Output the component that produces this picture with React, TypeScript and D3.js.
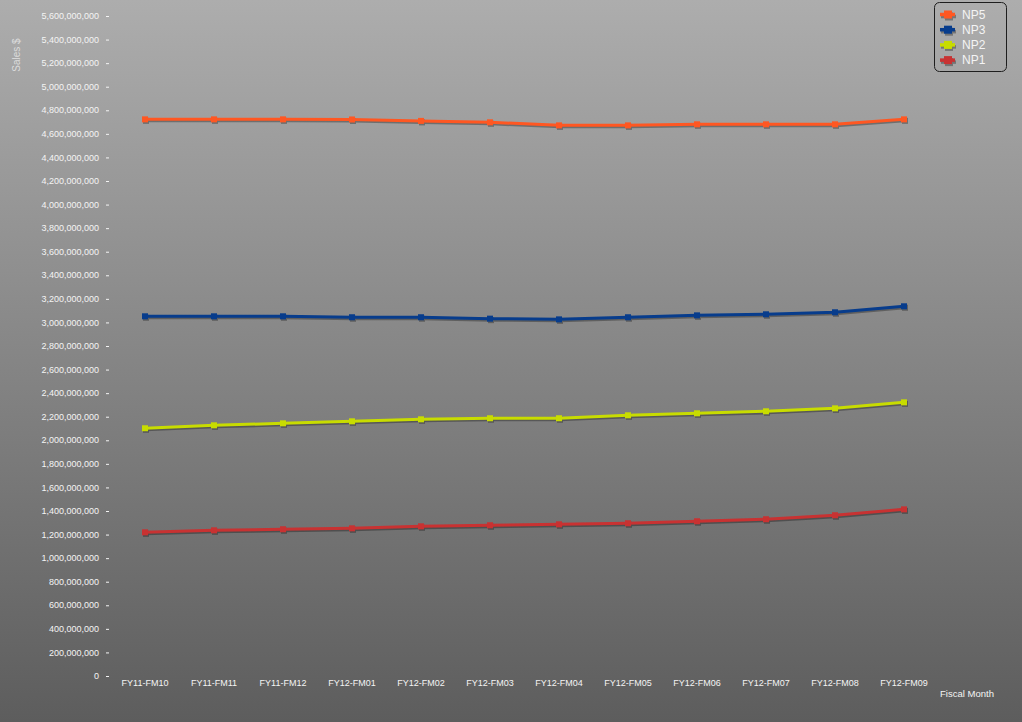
import React from "react";
import * as d3 from "d3";

const months = ["FY11-FM10","FY11-FM11","FY11-FM12","FY12-FM01","FY12-FM02","FY12-FM03","FY12-FM04","FY12-FM05","FY12-FM06","FY12-FM07","FY12-FM08","FY12-FM09"];
const np5 = [4.723e9,4.723e9,4.723e9,4.722e9,4.71e9,4.698e9,4.672e9,4.672e9,4.681e9,4.681e9,4.681e9,4.723e9];
const np3 = [3.052e9,3.052e9,3.052e9,3.044e9,3.044e9,3.032e9,3.026e9,3.044e9,3.060e9,3.069e9,3.086e9,3.137e9];
const np2 = [2.102e9,2.127e9,2.144e9,2.161e9,2.178e9,2.187e9,2.187e9,2.212e9,2.229e9,2.246e9,2.271e9,2.322e9];
const np1 = [1.219e9,1.236e9,1.245e9,1.253e9,1.270e9,1.279e9,1.287e9,1.296e9,1.313e9,1.330e9,1.364e9,1.414e9];
const seriesNames = ["NP5","NP3","NP2","NP1"];
const seriesValues = [np5, np3, np2, np1];
const seriesColors = ["#ff5722","#073c8c","#c8dc00","#c83232"];
const yTicks = d3.range(0, 5600000001, 200000000);

export default function App() {
  const W = 1022, H = 722;
  const x = d3.scaleBand<string>().domain(months).range([110.5, 938.5]);
  const y = d3.scaleLinear().domain([0, 5.6e9]).range([676, 16]);
  const cx = (m: string) => (x(m) as number) + x.bandwidth() / 2;
  const fmt = d3.format(",");
  const font = "'Liberation Sans', Arial, sans-serif";
  const line = d3.line<number>().x((_, i) => cx(months[i])).y(d => y(d));

  return (
    <svg width={W} height={H} style={{ position: "absolute", left: 0, top: 0 }}>
      <defs>
        <linearGradient id="bg" x1="0" y1="0" x2="0" y2="1">
          <stop offset="0" stopColor="#adadad" />
          <stop offset="1" stopColor="#5d5d5d" />
        </linearGradient>
      </defs>
      <rect width={W} height={H} fill="url(#bg)" />
      <text transform="translate(20,55) rotate(-90)" textAnchor="middle" fontFamily={font} fontSize={10} fill="#dcdcdc">Sales $</text>
      {yTicks.map(t => (
        <g key={t}>
          <text x={99} y={y(t)} dy="0.35em" textAnchor="end" fontFamily={font} fontSize={9} fill="#f4f4f4">{fmt(t)}</text>
          <line x1={106} x2={109} y1={y(t) + 0.5} y2={y(t) + 0.5} stroke="#f4f4f4" strokeWidth={1} />
        </g>
      ))}
      {months.map(m => (
        <text key={m} x={cx(m)} y={683} dy="0.35em" textAnchor="middle" fontFamily={font} fontSize={9} fill="#f4f4f4">{m}</text>
      ))}
      <text x={967} y={694} dy="0.35em" textAnchor="middle" fontFamily={font} fontSize={9.5} fill="#f4f4f4">Fiscal Month</text>
      {seriesValues.map((vals, si) => (
        <g key={seriesNames[si]}>
          <g transform="translate(1,1.5)" opacity={0.3}>
            <path d={line(vals) as string} fill="none" stroke="#000" strokeWidth={3} />
            {vals.map((v, i) => (
              <rect key={i} x={cx(months[i]) - 3} y={y(v) - 3} width={6} height={6} fill="#000" />
            ))}
          </g>
          <path d={line(vals) as string} fill="none" stroke={seriesColors[si]} strokeWidth={3} strokeLinejoin="round" />
          {vals.map((v, i) => (
            <rect key={i} x={cx(months[i]) - 3} y={y(v) - 3} width={6} height={6} fill={seriesColors[si]} />
          ))}
        </g>
      ))}
      <rect x={934.5} y={2.5} width={72} height={69} rx={5} fill="none" stroke="#1e1e1e" strokeWidth={1} />
      {seriesNames.map((n, i) => {
        const ly = 14.5 + i * 15.2;
        return (
          <g key={n}>
            <g transform="translate(1,2)" opacity={0.3}>
              <line x1={940} x2={955} y1={ly} y2={ly} stroke="#000" strokeWidth={3.5} />
              <rect x={944} y={ly - 4} width={8} height={8} fill="#000" />
            </g>
            <line x1={940} x2={955} y1={ly} y2={ly} stroke={seriesColors[i]} strokeWidth={3.5} />
            <rect x={944} y={ly - 4} width={8} height={8} fill={seriesColors[i]} />
            <text x={962} y={ly} dy="0.35em" fontFamily={font} fontSize={12} fill="#f4f4f4">{n}</text>
          </g>
        );
      })}
    </svg>
  );
}
